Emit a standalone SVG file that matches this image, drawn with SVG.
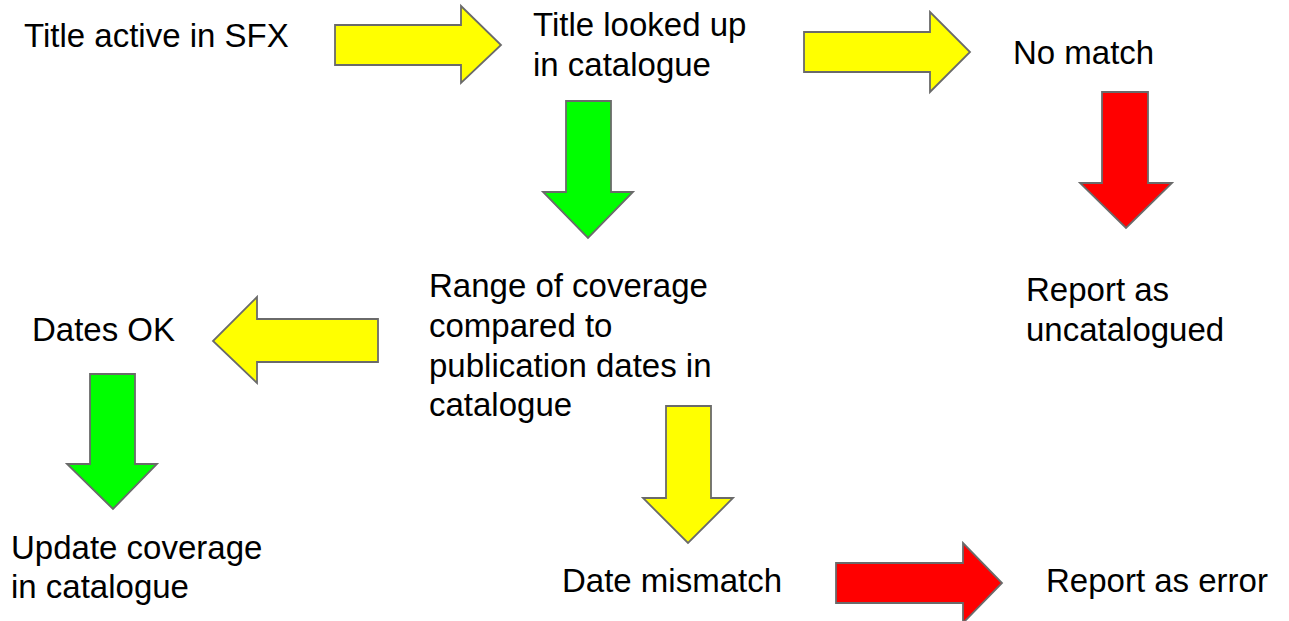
<svg xmlns="http://www.w3.org/2000/svg" width="1289" height="621" viewBox="0 0 1289 621">
<style>
text{font-family:"Liberation Sans",Arial,sans-serif;font-size:33px;fill:#000}
.a{stroke:#6a6a6a;stroke-width:1.8;stroke-linejoin:miter}
.y{fill:#ffff00}.g{fill:#00ff00}.r{fill:#ff0000}
</style>
<rect width="1289" height="621" fill="#fff"/>
<g id="connectors">
<polygon class="a y" points="335,25 461,25 461,6 501,45 461,83 461,65 335,65"/>
<polygon class="a g" points="566,101 611,101 611,192 633,192 588,238 543,192 566,192"/>
<polygon class="a y" points="804,32 930,32 930,12 970,52 930,92 930,72 804,72"/>
<polygon class="a r" points="1102,92 1148,92 1148,183 1172,183 1126,228 1080,183 1102,183"/>
<polygon class="a y" points="378,319 257,319 257,297 213,341 257,383 257,362 378,362"/>
<polygon class="a g" points="90,374 135,374 135,464 157,464 113,509 67,464 90,464"/>
<polygon class="a y" points="666,406 711,406 711,498 733,498 688,543 643,498 666,498"/>
<polygon class="a r" points="836,563 963,563 963,543 1002,583 963,623 963,603 836,603"/>
</g>
<g id="n1"><text x="24" y="47">Title active in SFX</text></g>
<g id="n2"><text x="533" y="36">Title looked up</text><text x="533" y="76">in catalogue</text></g>
<g id="n3"><text x="1013" y="64">No match</text></g>
<g id="n4"><text x="1026" y="301">Report as</text><text x="1026" y="341">uncatalogued</text></g>
<g id="n5"><text x="429" y="297">Range of coverage</text><text x="429" y="337">compared to</text><text x="429" y="377">publication dates in</text><text x="429" y="416">catalogue</text></g>
<g id="n6"><text x="32" y="341">Dates OK</text></g>
<g id="n7"><text x="11" y="559">Update coverage</text><text x="11" y="598">in catalogue</text></g>
<g id="n8"><text x="562" y="592">Date mismatch</text></g>
<g id="n9"><text x="1046" y="592">Report as error</text></g>
</svg>
